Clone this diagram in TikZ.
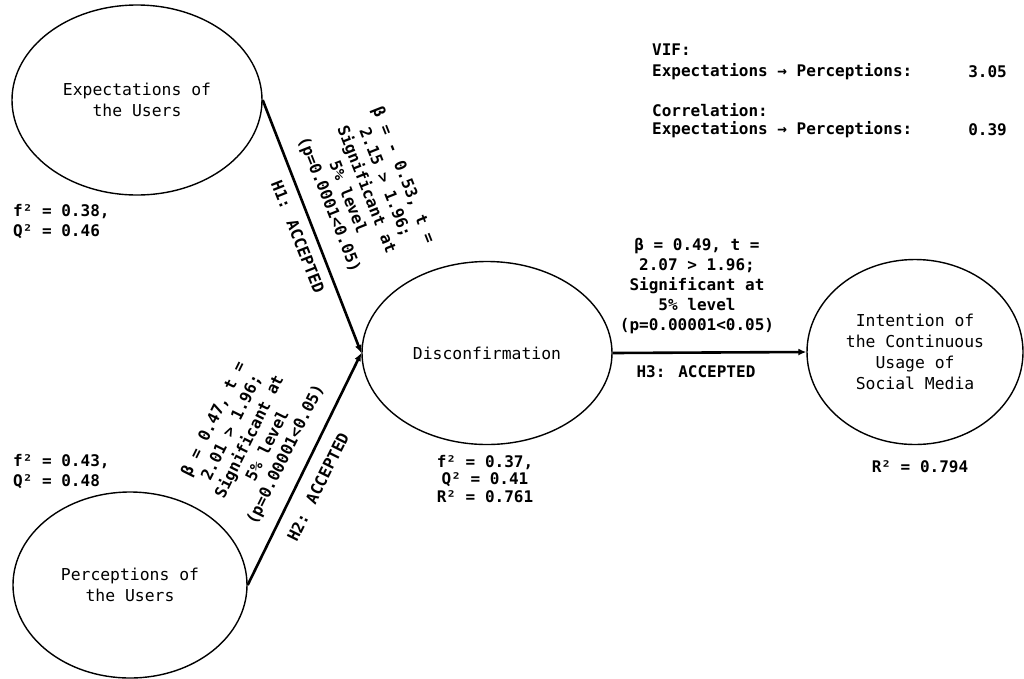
\documentclass[tikz,border=0pt]{standalone}
\usepackage{fontspec}
\newfontfamily\monofont{DejaVu Sans Mono}
\usetikzlibrary{shapes.geometric,arrows.meta}
\tikzset{
  construct/.style={draw=black, line width=1.4pt, ellipse, inner sep=0pt,
    align=center, font=\monofont\fontsize{16.4}{21}\selectfont},
  lbl/.style={align=center, inner sep=0pt,
    font=\monofont\bfseries\fontsize{16}{20}\selectfont},
  stat/.style={align=left, inner sep=0pt,
    font=\monofont\bfseries\fontsize{16}{20}\selectfont},
  path/.style={line width=2.6pt, -{Latex[length=8pt,width=7pt]}},
}
\begin{document}
\begin{tikzpicture}[x=1pt,y=-1pt]
\useasboundingbox (0,0) rectangle (1024,678);
% constructs
\node[construct, minimum width=250pt, minimum height=190pt] (exp) at (137,100) {Expectations of\\the Users};
\node[construct, minimum width=234pt, minimum height=186pt] (perc) at (130,585) {Perceptions of\\the Users};
\node[construct, minimum width=250pt, minimum height=183pt] (disc) at (487,353) {Disconfirmation};
\node[construct, minimum width=216pt, minimum height=185pt] (int) at (915,352) {Intention of\\the Continuous\\Usage of\\Social Media};
% paths
\draw[path] (exp.east) -- (disc.west);
\draw[path] (perc.east) -- (disc.west);
\draw[path] (disc.east) -- (int.west);
% path labels
\node[lbl, rotate=-68.4] (h1s) at (366,190) {β = - 0.53, t =\\2.15 > 1.96;\\Significant at\\5\% level\\(p=0.0001<0.05)};
\node[lbl, rotate=-68.4] (h1) at (298,237) {H1: ACCEPTED};
\node[lbl, rotate=63.6] (h2s) at (250,437) {β = 0.47, t =\\2.01 > 1.96;\\Significant at\\5\% level\\(p=0.00001<0.05)};
\node[lbl, rotate=63.6] (h2) at (318,487) {H2: ACCEPTED};
\node[lbl] (h3s) at (697,286) {β = 0.49, t =\\2.07 > 1.96;\\Significant at\\5\% level\\(p=0.00001<0.05)};
\node[lbl] (h3) at (696,372) {H3: ACCEPTED};
% construct statistics
\node[stat, anchor=west] (expst) at (13,222) {f² = 0.38,\\Q² = 0.46};
\node[stat, anchor=west] (percst) at (13,472) {f² = 0.43,\\Q² = 0.48};
\node[stat, align=center, font=\monofont\bfseries\fontsize{16}{17.5}\selectfont] (discst) at (485,479) {f² = 0.37,\\Q² = 0.41\\R² = 0.761};
\node[stat] (intst) at (920,467) {R² = 0.794};
% collinearity block
\node[stat, anchor=west] (vif) at (652,50) {VIF:};
\node[stat, anchor=west] (vifl) at (652,72) {Expectations → Perceptions:};
\node[stat, anchor=east] (vifv) at (1007,72) {3.05};
\node[stat, anchor=west] (cor) at (652,110) {Correlation:};
\node[stat, anchor=west] (corl) at (652,130) {Expectations → Perceptions:};
\node[stat, anchor=east] (corv) at (1007,130) {0.39};
\end{tikzpicture}
\end{document}
